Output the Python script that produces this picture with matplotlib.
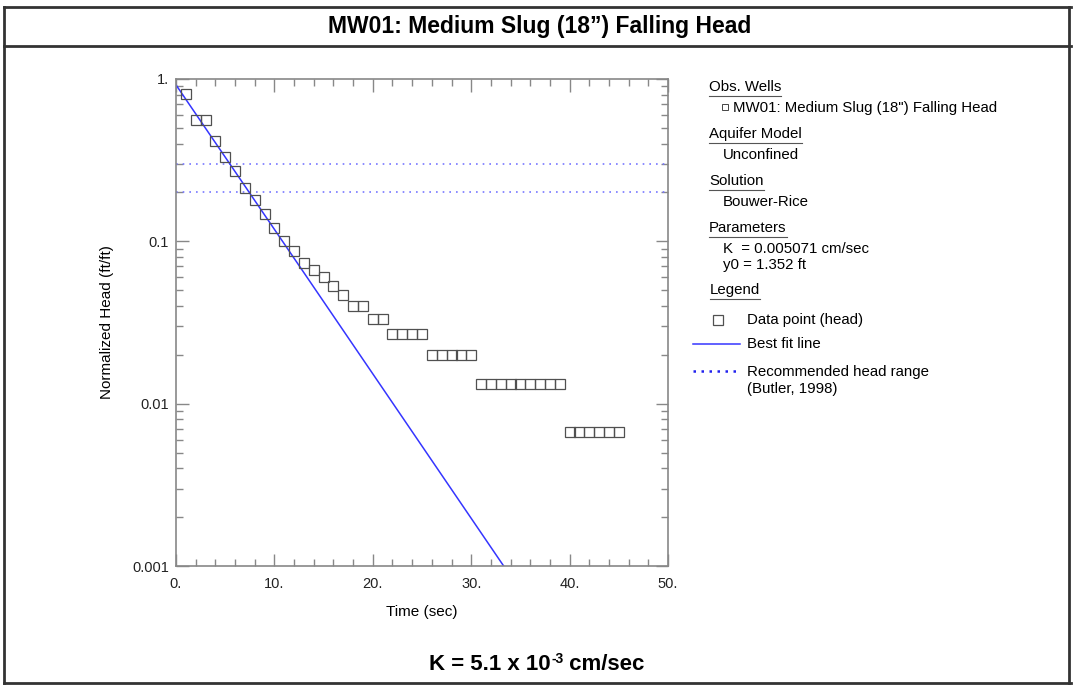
import numpy as np
import matplotlib
matplotlib.use('Agg')
import matplotlib.pyplot as plt
from matplotlib.lines import Line2D
from matplotlib.ticker import FuncFormatter, MultipleLocator, LogLocator

plt.rcParams['font.family'] = ['Liberation Sans', 'DejaVu Sans']

# observed normalized head (ft/ft) vs time (sec)
time = [1, 2, 3, 4, 5, 6, 7, 8, 9, 10, 11, 12, 13, 14, 15, 16, 17, 18, 19, 20,
        21, 22, 23, 24, 25, 26, 27, 28, 29, 30, 31, 32, 33, 34, 35, 36, 37, 38,
        39, 40, 41, 42, 43, 44, 45]
head = [0.807, 0.56, 0.56, 0.413, 0.333, 0.273, 0.213, 0.18, 0.147, 0.12,
        0.1, 0.0867, 0.0733, 0.0667, 0.06, 0.0533, 0.0467, 0.04, 0.04, 0.0333,
        0.0333, 0.0267, 0.0267, 0.0267, 0.0267, 0.02, 0.02, 0.02, 0.02, 0.02,
        0.0133, 0.0133, 0.0133, 0.0133, 0.0133, 0.0133, 0.0133, 0.0133, 0.0133,
        0.00667, 0.00667, 0.00667, 0.00667, 0.00667, 0.00667]

# Bouwer-Rice best fit line
fit_t = [0, 33.3]
fit_h = [0.92, 0.001]

# Butler (1998) recommended head range
head_range = [0.3, 0.2]

yticks = [1, 0.1, 0.01, 0.001]
ylabels = ['1.', '0.1', '0.01', '0.001']

W, H = 1073, 686
fig = plt.figure(figsize=(W / 100, H / 100), dpi=100)

def fx(px):
    return px / W

def fy(py):
    return 1 - py / H

# frame
frame_kw = dict(color='#333333', lw=2, transform=fig.transFigure)
fig.add_artist(Line2D([fx(4), fx(1071)], [fy(7), fy(7)], **frame_kw))
fig.add_artist(Line2D([fx(4), fx(1071)], [fy(46), fy(46)], **frame_kw))
fig.add_artist(Line2D([fx(4), fx(1071)], [fy(683), fy(683)], **frame_kw))
fig.add_artist(Line2D([fx(4), fx(4)], [fy(7), fy(683)], **frame_kw))
fig.add_artist(Line2D([fx(1069), fx(1069)], [fy(7), fy(683)], **frame_kw))

fig.text(fx(540), fy(27), 'MW01: Medium Slug (18\u201d) Falling Head', ha='center', va='center',
         fontsize=16.5, fontweight='bold')

ax = fig.add_axes([fx(176), fy(566), fx(668) - fx(176), fy(79) - fy(566)])
ax.set_yscale('log')
ax.set_xlim(0, 50)
ax.set_ylim(0.001, 1)

for h in head_range:
    ax.axhline(h, color='#7777ff', lw=1.2, ls=(0, (1, 3)))
ax.plot(fit_t, fit_h, color='#3535ff', lw=1.1)
ax.plot(time, head, ls='none', marker='s', ms=6.5, mfc='none', mec='#505050', mew=0.9)

ax.xaxis.set_major_locator(MultipleLocator(10))
ax.xaxis.set_minor_locator(MultipleLocator(2))
ax.xaxis.set_major_formatter(FuncFormatter(lambda v, p: '%d.' % v))
ax.yaxis.set_minor_locator(LogLocator(base=10, subs=np.arange(2, 10), numticks=10))
ax.set_yticks(yticks)
ax.set_yticklabels(ylabels)
ax.yaxis.set_minor_formatter(FuncFormatter(lambda v, p: ''))
ax.tick_params(which='both', direction='in', top=True, right=True, color='#888888',
               labelsize=10.5, labelcolor='#222222')
ax.tick_params(axis='x', pad=8)
ax.tick_params(axis='y', pad=5)
ax.tick_params(which='major', length=9, width=1)
ax.tick_params(which='minor', length=5, width=1)
for s in ax.spines.values():
    s.set_color('#888888')
    s.set_linewidth(1.2)
ax.set_xlabel('Time (sec)', fontsize=11, labelpad=10)
ax.set_ylabel('Normalized Head (ft/ft)', fontsize=11, labelpad=13)

# legend panel
fs = 10.8
headers = [('Obs. Wells', 709, 87), ('Aquifer Model', 709, 134), ('Solution', 709, 181),
           ('Parameters', 709, 228), ('Legend', 710, 290)]
head_texts = []
for txt, x, y in headers:
    head_texts.append(fig.text(fx(x), fy(y), txt, fontsize=fs, va='center', ha='left'))

fig.text(fx(733), fy(108), 'MW01: Medium Slug (18") Falling Head', fontsize=fs, va='center')
fig.add_artist(Line2D([fx(725)], [fy(107)], marker='s', ms=5, mfc='none', mec='#444444',
                      mew=0.7, transform=fig.transFigure))
fig.text(fx(723), fy(155), 'Unconfined', fontsize=fs, va='center')
fig.text(fx(723), fy(202), 'Bouwer-Rice', fontsize=fs, va='center')
fig.text(fx(723), fy(249), 'K  = 0.005071 cm/sec', fontsize=fs, va='center')
fig.text(fx(723), fy(265), 'y0 = 1.352 ft', fontsize=fs, va='center')

fig.add_artist(Line2D([fx(718)], [fy(320)], marker='s', ms=6.5, mfc='none', mec='#505050',
                      mew=0.9, transform=fig.transFigure))
fig.text(fx(747), fy(320), 'Data point (head)', fontsize=fs, va='center')
fig.add_artist(Line2D([fx(693), fx(740)], [fy(344), fy(344)], color='#3535ff', lw=1.1,
                      transform=fig.transFigure))
fig.text(fx(747), fy(344), 'Best fit line', fontsize=fs, va='center')
fig.add_artist(Line2D([fx(693), fx(740)], [fy(371), fy(371)], color='#2222ee', lw=1.8,
                      ls=(0, (1, 2.2)), transform=fig.transFigure))
fig.text(fx(747), fy(372), 'Recommended head range', fontsize=fs, va='center')
fig.text(fx(747), fy(389), '(Butler, 1998)', fontsize=fs, va='center')

# bottom result text, pieced together so the exponent keeps a plain hyphen
fig.canvas.draw()
r = fig.canvas.get_renderer()
parts = [('K = 5.1 x 10', 16, 0), ('-3', 10, 7), (' cm/sec', 16, 0)]
objs = []
for txt, size, dy in parts:
    t = fig.text(0, fy(670) + dy / H, txt, fontsize=size, fontweight='bold', va='baseline')
    objs.append(t)
fig.canvas.draw()
widths = [t.get_window_extent(r).width for t in objs]
x0 = 537 - sum(widths) / 2
for t, w in zip(objs, widths):
    t.set_x(x0 / W)
    x0 += w

# underline the section headers
for t in head_texts:
    bb = t.get_window_extent(r)
    yy = bb.y0 - 2
    fig.add_artist(Line2D([bb.x0 / W, bb.x1 / W], [yy / H, yy / H], color='#555555', lw=0.8,
                          transform=fig.transFigure))

fig.savefig('out.png', dpi=100)
